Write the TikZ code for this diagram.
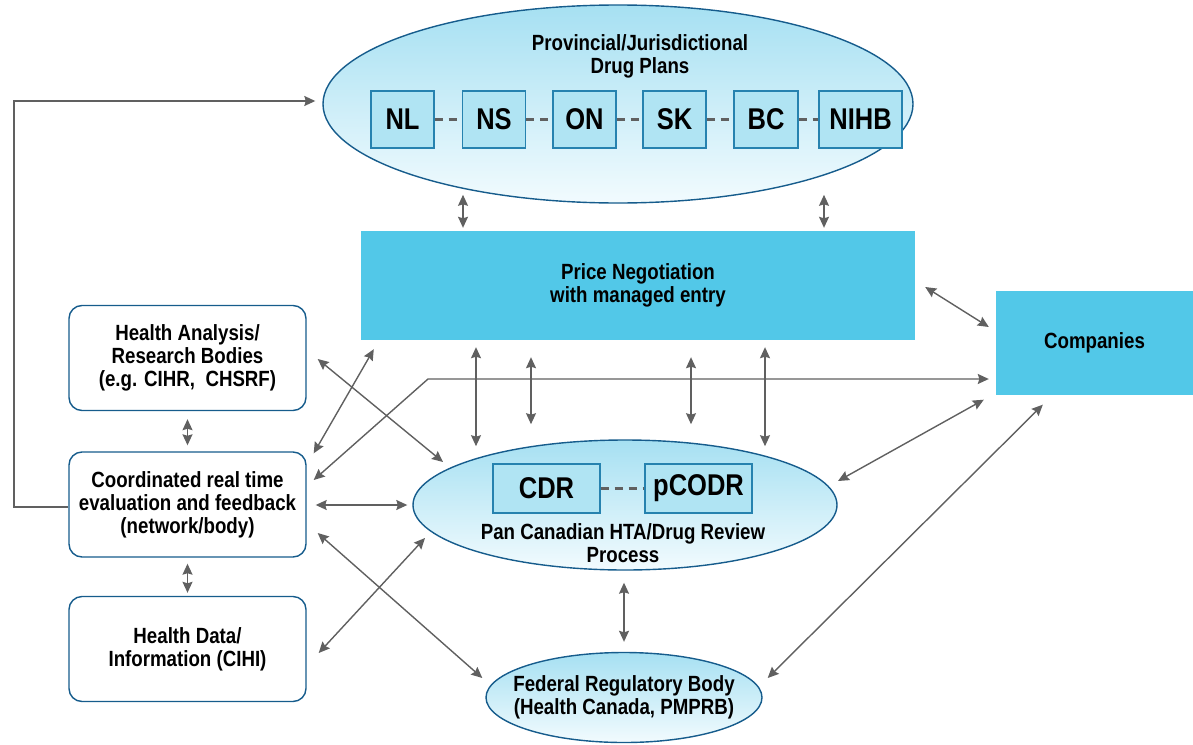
\documentclass[tikz,border=0pt]{standalone}
\usepackage{fontspec}
\setmainfont{Liberation Sans}[FakeStretch=0.85]
\usetikzlibrary{arrows.meta,shapes.geometric,positioning}

\definecolor{entrycyan}{RGB}{82,200,232}
\definecolor{rimblue}{RGB}{22,92,140}
\definecolor{linkgray}{RGB}{96,96,96}
\definecolor{skytop}{RGB}{166,224,242}
\definecolor{skybottom}{RGB}{242,251,254}
\definecolor{tilefill}{RGB}{176,228,243}
\definecolor{tilerim}{RGB}{38,130,175}

\tikzset{
  plan/.style={ellipse, draw=rimblue, line width=1.4pt, top color=skytop, bottom color=skybottom},
  tile/.style={draw=tilerim, line width=1.2pt, fill=tilefill, font=\fontsize{30}{32}\selectfont\bfseries},
  block/.style={fill=entrycyan},
  softbox/.style={draw=rimblue, line width=1.4pt, fill=white, rounded corners=13pt,
    minimum width=237pt, minimum height=105pt},
  dashlink/.style={draw=linkgray, line width=3pt, dash pattern=on 8pt off 6pt},
  link/.style={draw=linkgray, line width=1.4pt, >={Stealth[length=11pt,width=10pt,inset=1.5pt]}, <->},
}

\begin{document}
\begin{tikzpicture}[x=1pt,y=-1pt,
  every node/.style={font=\fontsize{22}{23}\selectfont\bfseries, align=center, inner sep=0pt}]
\useasboundingbox (0,0) rectangle (1193,744);

% drug plans up top
\node[plan, minimum width=590pt, minimum height=198pt] (plans) at (618,104) {};
\node (plantitle) at (640,56) {Provincial/Jurisdictional\\Drug Plans};
\foreach \jur/\cx/\w [count=\n] in {NL/402.5/63, NS/494/63, ON/584.5/63,
    SK/674.5/63, BC/766/64, NIHB/860.5/83}
  \node[tile, minimum width=\w pt, minimum height=57pt] (j\n) at (\cx,119.5) {\jur};
\foreach \a [evaluate=\a as \b using int(\a+1)] in {1,...,5}
  \draw[dashlink] (j\a) -- (j\b);

\node[block, minimum width=554pt, minimum height=109pt] (price) at (638,285.5)
  {Price Negotiation\\with managed entry};
\node[block, minimum width=197pt, minimum height=104pt] (comp) at (1094.5,342.5) {Companies};

\node[softbox] (hab) at (187.5,358) {Health Analysis/\\Research Bodies\\(e.g. CIHR,\ \ CHSRF)};
\node[softbox] (coord) at (187.5,504.5) {Coordinated real time\\evaluation and feedback\\(network/body)};
\node[softbox] (hdata) at (187.5,649) {Health Data/\\Information (CIHI)};

% review process + regulator
\node[plan, minimum width=424pt, minimum height=130pt] (pan) at (625,505) {};
\node[tile, minimum width=107pt, minimum height=49pt] (cdr) at (546.5,488.5) {CDR};
\node[tile, minimum width=107pt, minimum height=49pt] (pcodr) at (698.5,488.5) {pCODR};
\draw[dashlink] (cdr) -- (pcodr);
\node (pantitle) at (623,543) {Pan Canadian HTA/Drug Review\\Process};
\node[plan, minimum width=276pt, minimum height=90pt] (fed) at (624,697.5) {};
\node (fedtitle) at (624,697.5) {Federal Regulatory Body\\(Health Canada, PMPRB)};

% feedback loop
\coordinate (loopc) at (14,101);
\draw[draw=linkgray, line width=1.4pt, -{Stealth[length=11pt,width=10pt,inset=1.5pt]}]
  ([shift={(0,2.5)}]coord.west) -| (loopc) -- ([shift={(-7,-3)}]plans.west);

\foreach \dx in {-175,186}
  \draw[link] ([shift={(\dx,-36)}]price.north) -- ([shift={(\dx,-3)}]price.north);
\foreach \dx/\up/\dn in {-162/7/106, -107/17/84, 53/17/84, 127/7/106}
  \draw[link] ([shift={(\dx,\up)}]price.south) -- ([shift={(\dx,\dn)}]price.south);
\draw[link] ([shift={(10,1.5)}]price.east) -- ([shift={(-7,-15.5)}]comp.west);

\coordinate (bend) at (428,379);
\draw[link] ([shift={(7,-24.5)}]coord.east) -- (bend) -- ([shift={(-7,36.5)}]comp.west);

\draw[link] ([shift={(0,8)}]hab.south) -- ([shift={(0,-6)}]coord.north);
\draw[link] ([shift={(0,6)}]coord.south) -- ([shift={(0,-3)}]hdata.north);
\draw[link] ([shift={(7,2)}]coord.north east) -- ([shift={(13,9)}]price.south west);
\draw[link] ([shift={(11,1)}]hab.east) -- ([shift={(-182,-43)}]pan.center);
\draw[link] ([shift={(9,0.5)}]coord.east) -- ([shift={(-5,0)}]pan.west);
\draw[link] ([shift={(11,28.5)}]coord.east) -- ([shift={(-3,-19.5)}]fed.west);
\draw[link] ([shift={(12,4)}]hdata.east) -- ([shift={(-200,33)}]pan.center);
\draw[link] ([shift={(-12,5)}]comp.south west) -- ([shift={(213,-24)}]pan.center);
\draw[link] ([shift={(47,10)}]comp.south west) -- ([shift={(5,-19.5)}]fed.east);
\draw[link] ([shift={(-1,12)}]pan.south) -- ([shift={(0,-10)}]fed.north);
\end{tikzpicture}
\end{document}
